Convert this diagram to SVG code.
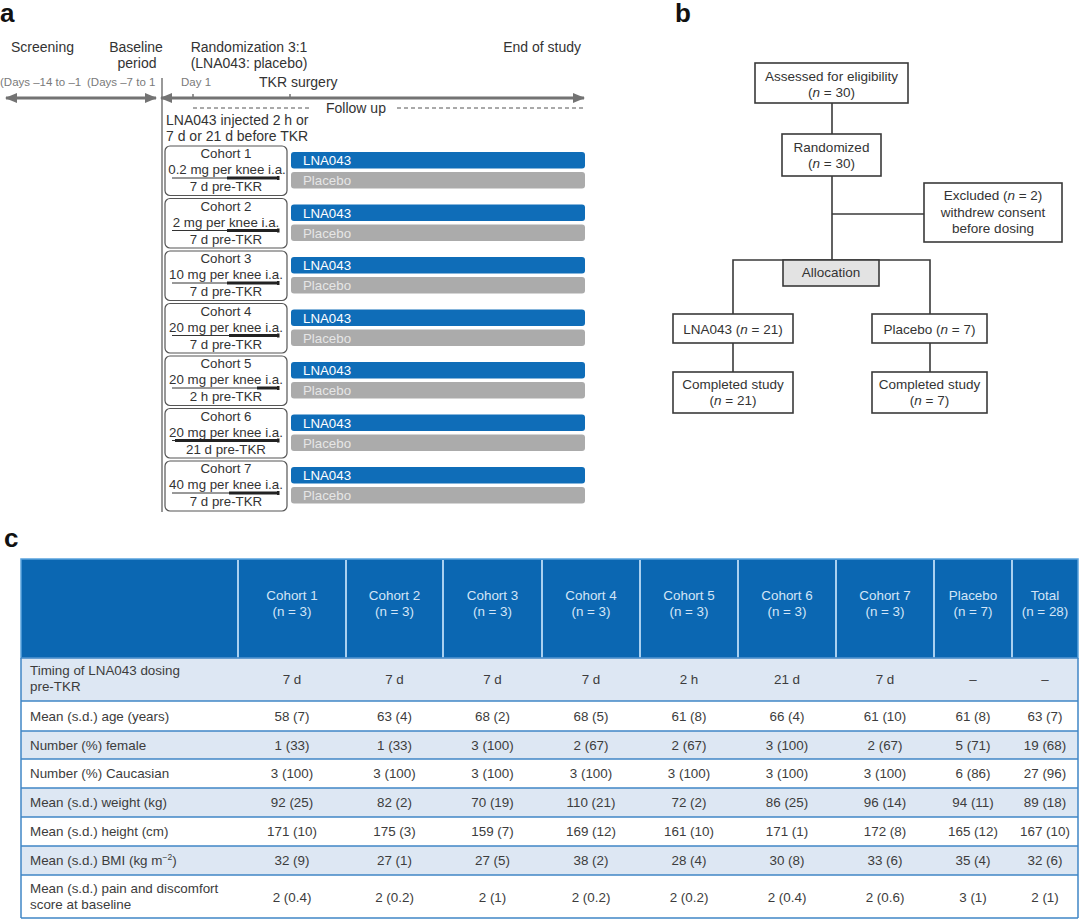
<svg xmlns="http://www.w3.org/2000/svg" width="1080" height="920" viewBox="0 0 1080 920">
<defs>
<style>
text{font-family:"Liberation Sans",Arial,sans-serif;fill:#333}
.lbl{font-size:26px;font-weight:bold;fill:#111}
.h{font-size:14px}
.sm{font-size:11.5px;fill:#7a7a7a}
.cb{font-size:13.3px;text-anchor:middle}
.bt{font-size:13.3px;fill:#fff}
.pt{font-size:13.3px;fill:#e6e6e6}
.box{fill:#fff;stroke:#555;stroke-width:1.2}
.fb{fill:#fff;stroke:#3a3a3a;stroke-width:1.6}
.ft{font-size:13.5px;text-anchor:middle}
.con{stroke:#3a3a3a;stroke-width:1.6;fill:none}
.ax{stroke:#737373;stroke-width:3;fill:none}
.dash{stroke:#555;stroke-width:1;stroke-dasharray:4 3;fill:none}
.th{font-size:13.4px;fill:#d3e5f7;text-anchor:middle}
.td{font-size:13.4px;fill:#3c3c3c;text-anchor:middle}
.tl{font-size:13.4px;fill:#3c3c3c}
.rowa{fill:#dde7f3}
.rowb{fill:#fff}
.rl{stroke:#3f86c6;stroke-width:1.5}
.bar1{fill:#0f6db8}
.bar2{fill:#ababab}
.tline{stroke:#333;stroke-width:1}
.tthick{stroke:#222;stroke-width:3}
</style>
<marker id="ah" markerUnits="userSpaceOnUse" markerWidth="12" markerHeight="10" refX="11" refY="5" orient="auto-start-reverse"><path d="M0,0 L12,5 L0,10 z" fill="#737373"/></marker>
</defs>
<rect width="1080" height="920" fill="#fff"/>

<!-- Panel labels -->
<text class="lbl" x="0" y="22">a</text>
<text class="lbl" x="675" y="22">b</text>
<text class="lbl" x="4" y="547">c</text>

<!-- Panel a timeline -->
<g id="timeline">
<text class="h" x="11" y="52">Screening</text>
<text class="h" x="136" y="52" text-anchor="middle">Baseline</text>
<text class="h" x="137" y="68" text-anchor="middle">period</text>
<text class="h" x="249" y="52" text-anchor="middle">Randomization 3:1</text>
<text class="h" x="249" y="68" text-anchor="middle">(LNA043: placebo)</text>
<text class="h" x="581" y="52" text-anchor="end">End of study</text>
<text class="sm" x="0" y="86">(Days –14 to –1</text>
<text class="sm" x="87" y="86">(Days –7 to 1</text>
<text class="sm" x="181" y="86">Day 1</text>
<text class="h" x="259" y="87">TKR surgery</text>
<line x1="162" y1="78" x2="162" y2="512" stroke="#555" stroke-width="1.2"/>
<line class="ax" x1="6" y1="98" x2="156" y2="98" marker-start="url(#ah)" marker-end="url(#ah)"/>
<line class="ax" x1="161" y1="98" x2="584" y2="98" marker-start="url(#ah)" marker-end="url(#ah)"/>
<line x1="193" y1="94" x2="193" y2="98" stroke="#737373" stroke-width="1.5"/>
<line x1="290" y1="94" x2="290" y2="98" stroke="#737373" stroke-width="1.5"/>
<line class="dash" x1="193" y1="108" x2="312" y2="108"/>
<text class="h" x="326" y="112.5">Follow up</text>
<line class="dash" x1="397" y1="108" x2="584" y2="108"/>
<text class="h" x="166" y="125">LNA043 injected 2 h or</text>
<text class="h" x="166" y="141">7 d or 21 d before TKR</text>
</g>

<g id="cohort1" transform="translate(0,146)">
<rect class="box" x="165" y="0" width="122" height="49.5" rx="5"/>
<text class="cb" x="226" y="12">Cohort 1</text>
<text class="cb" x="227" y="28">0.2 mg per knee i.a.</text>
<line class="tline" x1="172" y1="32" x2="279" y2="32"/><line class="tthick" x1="227" y1="32" x2="277" y2="32"/><rect x="277" y="30" width="2.5" height="4" fill="#222"/>
<text class="cb" x="226" y="45">7 d pre-TKR</text>
<rect class="bar1" x="291" y="6" width="294" height="16.5" rx="3"/><text class="bt" x="303" y="19">LNA043</text>
<rect class="bar2" x="291" y="26" width="294" height="16.5" rx="3"/><text class="pt" x="303" y="39">Placebo</text>
</g>
<g id="cohort2" transform="translate(0,198.5)">
<rect class="box" x="165" y="0" width="122" height="49.5" rx="5"/>
<text class="cb" x="226" y="12">Cohort 2</text>
<text class="cb" x="226" y="28">2 mg per knee i.a.</text>
<line class="tline" x1="172" y1="32" x2="279" y2="32"/><line class="tthick" x1="227" y1="32" x2="277" y2="32"/><rect x="277" y="30" width="2.5" height="4" fill="#222"/>
<text class="cb" x="226" y="45">7 d pre-TKR</text>
<rect class="bar1" x="291" y="6" width="294" height="16.5" rx="3"/><text class="bt" x="303" y="19">LNA043</text>
<rect class="bar2" x="291" y="26" width="294" height="16.5" rx="3"/><text class="pt" x="303" y="39">Placebo</text>
</g>
<g id="cohort3" transform="translate(0,251)">
<rect class="box" x="165" y="0" width="122" height="49.5" rx="5"/>
<text class="cb" x="226" y="12">Cohort 3</text>
<text class="cb" x="226" y="28">10 mg per knee i.a.</text>
<line class="tline" x1="172" y1="32" x2="279" y2="32"/><line class="tthick" x1="227" y1="32" x2="277" y2="32"/><rect x="277" y="30" width="2.5" height="4" fill="#222"/>
<text class="cb" x="226" y="45">7 d pre-TKR</text>
<rect class="bar1" x="291" y="6" width="294" height="16.5" rx="3"/><text class="bt" x="303" y="19">LNA043</text>
<rect class="bar2" x="291" y="26" width="294" height="16.5" rx="3"/><text class="pt" x="303" y="39">Placebo</text>
</g>
<g id="cohort4" transform="translate(0,303.5)">
<rect class="box" x="165" y="0" width="122" height="49.5" rx="5"/>
<text class="cb" x="226" y="12">Cohort 4</text>
<text class="cb" x="226" y="28">20 mg per knee i.a.</text>
<line class="tline" x1="172" y1="32" x2="279" y2="32"/><line class="tthick" x1="229" y1="32" x2="277" y2="32"/><rect x="277" y="30" width="2.5" height="4" fill="#222"/>
<text class="cb" x="226" y="45">7 d pre-TKR</text>
<rect class="bar1" x="291" y="6" width="294" height="16.5" rx="3"/><text class="bt" x="303" y="19">LNA043</text>
<rect class="bar2" x="291" y="26" width="294" height="16.5" rx="3"/><text class="pt" x="303" y="39">Placebo</text>
</g>
<g id="cohort5" transform="translate(0,356)">
<rect class="box" x="165" y="0" width="122" height="49.5" rx="5"/>
<text class="cb" x="226" y="12">Cohort 5</text>
<text class="cb" x="226" y="28">20 mg per knee i.a.</text>
<line class="tline" x1="172" y1="32" x2="279" y2="32"/><line class="tthick" x1="257" y1="32" x2="277" y2="32"/><rect x="277" y="30" width="2.5" height="4" fill="#222"/>
<text class="cb" x="226" y="45">2 h pre-TKR</text>
<rect class="bar1" x="291" y="6" width="294" height="16.5" rx="3"/><text class="bt" x="303" y="19">LNA043</text>
<rect class="bar2" x="291" y="26" width="294" height="16.5" rx="3"/><text class="pt" x="303" y="39">Placebo</text>
</g>
<g id="cohort6" transform="translate(0,408.5)">
<rect class="box" x="165" y="0" width="122" height="49.5" rx="5"/>
<text class="cb" x="226" y="12">Cohort 6</text>
<text class="cb" x="226" y="28">20 mg per knee i.a.</text>
<line class="tline" x1="172" y1="32" x2="279" y2="32"/><line class="tthick" x1="175" y1="32" x2="277" y2="32"/><rect x="277" y="30" width="2.5" height="4" fill="#222"/>
<text class="cb" x="226" y="45">21 d pre-TKR</text>
<rect class="bar1" x="291" y="6" width="294" height="16.5" rx="3"/><text class="bt" x="303" y="19">LNA043</text>
<rect class="bar2" x="291" y="26" width="294" height="16.5" rx="3"/><text class="pt" x="303" y="39">Placebo</text>
</g>
<g id="cohort7" transform="translate(0,461)">
<rect class="box" x="165" y="0" width="122" height="50" rx="5"/>
<text class="cb" x="226" y="12">Cohort 7</text>
<text class="cb" x="226" y="28">40 mg per knee i.a.</text>
<line class="tline" x1="172" y1="32" x2="279" y2="32"/><line class="tthick" x1="229" y1="32" x2="277" y2="32"/><rect x="277" y="30" width="2.5" height="4" fill="#222"/>
<text class="cb" x="226" y="45">7 d pre-TKR</text>
<rect class="bar1" x="291" y="6" width="294" height="16.5" rx="3"/><text class="bt" x="303" y="19">LNA043</text>
<rect class="bar2" x="291" y="26" width="294" height="16.5" rx="3"/><text class="pt" x="303" y="39">Placebo</text>
</g>

<!-- Panel b connectors -->
<g id="connectors">
<line class="con" x1="832" y1="103" x2="832" y2="134"/>
<line class="con" x1="832" y1="176" x2="832" y2="260"/>
<line class="con" x1="832" y1="214" x2="924" y2="214"/>
<polyline class="con" points="733,314 733,260 930,260 930,314"/>
<line class="con" x1="733" y1="343" x2="733" y2="372"/>
<line class="con" x1="930" y1="343" x2="930" y2="372"/>
</g>
<g id="assessed">
<rect class="fb" x="755" y="63" width="153" height="40"/>
<text class="ft" x="831.5" y="80.5">Assessed for eligibility</text>
<text class="ft" x="831.5" y="97">(<tspan font-style="italic">n</tspan> = 30)</text>
</g>
<g id="randomized">
<rect class="fb" x="782" y="134" width="99" height="42"/>
<text class="ft" x="831.5" y="151.5">Randomized</text>
<text class="ft" x="831.5" y="168">(<tspan font-style="italic">n</tspan> = 30)</text>
</g>
<g id="excluded">
<rect class="fb" x="924" y="183" width="138" height="59"/>
<text class="ft" x="993" y="200">Excluded (<tspan font-style="italic">n</tspan> = 2)</text>
<text class="ft" x="993" y="216.5">withdrew consent</text>
<text class="ft" x="993" y="233">before dosing</text>
</g>
<g id="allocation">
<rect x="783" y="260" width="96" height="26" fill="#e3e3e3" stroke="#3a3a3a" stroke-width="1.6"/>
<text class="ft" x="831" y="276.5">Allocation</text>
</g>
<g id="lna043">
<rect class="fb" x="673" y="314" width="120" height="29"/>
<text class="ft" x="733" y="333.5">LNA043 (<tspan font-style="italic">n</tspan> = 21)</text>
</g>
<g id="placebo">
<rect class="fb" x="872" y="314" width="115" height="29"/>
<text class="ft" x="929.5" y="333.5">Placebo (<tspan font-style="italic">n</tspan> = 7)</text>
</g>
<g id="completed1">
<rect class="fb" x="673" y="372" width="120" height="41"/>
<text class="ft" x="733" y="388.5">Completed study</text>
<text class="ft" x="733" y="404.5">(<tspan font-style="italic">n</tspan> = 21)</text>
</g>
<g id="completed2">
<rect class="fb" x="872" y="372" width="115" height="41"/>
<text class="ft" x="929.5" y="388.5">Completed study</text>
<text class="ft" x="929.5" y="404.5">(<tspan font-style="italic">n</tspan> = 7)</text>
</g>

<!-- Panel c table -->
<g id="table">
<rect x="21" y="559" width="1057" height="99" fill="#0b67b2" stroke="#5aa2dd" stroke-width="1.5"/>
<g stroke="#a9d0f0" stroke-width="2">
<line x1="238" y1="560" x2="238" y2="658"/><line x1="346" y1="560" x2="346" y2="658"/><line x1="443" y1="560" x2="443" y2="658"/><line x1="542" y1="560" x2="542" y2="658"/><line x1="640" y1="560" x2="640" y2="658"/><line x1="738" y1="560" x2="738" y2="658"/><line x1="836" y1="560" x2="836" y2="658"/><line x1="934" y1="560" x2="934" y2="658"/><line x1="1012" y1="560" x2="1012" y2="658"/>
</g>
<text class="th" x="292" y="600">Cohort 1</text><text class="th" x="292" y="616">(n = 3)</text>
<text class="th" x="394.5" y="600">Cohort 2</text><text class="th" x="394.5" y="616">(n = 3)</text>
<text class="th" x="492.5" y="600">Cohort 3</text><text class="th" x="492.5" y="616">(n = 3)</text>
<text class="th" x="591" y="600">Cohort 4</text><text class="th" x="591" y="616">(n = 3)</text>
<text class="th" x="689" y="600">Cohort 5</text><text class="th" x="689" y="616">(n = 3)</text>
<text class="th" x="787" y="600">Cohort 6</text><text class="th" x="787" y="616">(n = 3)</text>
<text class="th" x="885" y="600">Cohort 7</text><text class="th" x="885" y="616">(n = 3)</text>
<text class="th" x="973" y="600">Placebo</text><text class="th" x="973" y="616">(n = 7)</text>
<text class="th" x="1045" y="600">Total</text><text class="th" x="1045" y="616">(n = 28)</text>

<rect class="rowa" x="21" y="658" width="1057" height="43"/>
<rect class="rowb" x="21" y="701" width="1057" height="30"/>
<rect class="rowa" x="21" y="731" width="1057" height="28"/>
<rect class="rowb" x="21" y="759" width="1057" height="29"/>
<rect class="rowa" x="21" y="788" width="1057" height="29"/>
<rect class="rowb" x="21" y="817" width="1057" height="29"/>
<rect class="rowa" x="21" y="846" width="1057" height="29"/>
<rect class="rowb" x="21" y="875" width="1057" height="43"/>
<g class="rl">
<line x1="21" y1="658" x2="1078" y2="658"/><line x1="21" y1="701" x2="1078" y2="701"/><line x1="21" y1="731" x2="1078" y2="731"/><line x1="21" y1="759" x2="1078" y2="759"/><line x1="21" y1="788" x2="1078" y2="788"/><line x1="21" y1="817" x2="1078" y2="817"/><line x1="21" y1="846" x2="1078" y2="846"/><line x1="21" y1="875" x2="1078" y2="875"/><line x1="21" y1="918" x2="1078" y2="918"/>
<line x1="21" y1="658" x2="21" y2="918"/><line x1="1078" y1="658" x2="1078" y2="918"/>
</g>

<text class="tl" x="30" y="675">Timing of LNA043 dosing</text><text class="tl" x="30" y="691">pre-TKR</text>
<text class="td" x="292" y="684">7 d</text><text class="td" x="394.5" y="684">7 d</text><text class="td" x="492.5" y="684">7 d</text><text class="td" x="591" y="684">7 d</text><text class="td" x="689" y="684">2 h</text><text class="td" x="787" y="684">21 d</text><text class="td" x="885" y="684">7 d</text><text class="td" x="973" y="684">–</text><text class="td" x="1045" y="684">–</text>

<text class="tl" x="30" y="720.5">Mean (s.d.) age (years)</text>
<text class="td" x="292" y="720.5">58 (7)</text><text class="td" x="394.5" y="720.5">63 (4)</text><text class="td" x="492.5" y="720.5">68 (2)</text><text class="td" x="591" y="720.5">68 (5)</text><text class="td" x="689" y="720.5">61 (8)</text><text class="td" x="787" y="720.5">66 (4)</text><text class="td" x="885" y="720.5">61 (10)</text><text class="td" x="973" y="720.5">61 (8)</text><text class="td" x="1045" y="720.5">63 (7)</text>

<text class="tl" x="30" y="749.5">Number (%) female</text>
<text class="td" x="292" y="749.5">1 (33)</text><text class="td" x="394.5" y="749.5">1 (33)</text><text class="td" x="492.5" y="749.5">3 (100)</text><text class="td" x="591" y="749.5">2 (67)</text><text class="td" x="689" y="749.5">2 (67)</text><text class="td" x="787" y="749.5">3 (100)</text><text class="td" x="885" y="749.5">2 (67)</text><text class="td" x="973" y="749.5">5 (71)</text><text class="td" x="1045" y="749.5">19 (68)</text>

<text class="tl" x="30" y="778">Number (%) Caucasian</text>
<text class="td" x="292" y="778">3 (100)</text><text class="td" x="394.5" y="778">3 (100)</text><text class="td" x="492.5" y="778">3 (100)</text><text class="td" x="591" y="778">3 (100)</text><text class="td" x="689" y="778">3 (100)</text><text class="td" x="787" y="778">3 (100)</text><text class="td" x="885" y="778">3 (100)</text><text class="td" x="973" y="778">6 (86)</text><text class="td" x="1045" y="778">27 (96)</text>

<text class="tl" x="30" y="807">Mean (s.d.) weight (kg)</text>
<text class="td" x="292" y="807">92 (25)</text><text class="td" x="394.5" y="807">82 (2)</text><text class="td" x="492.5" y="807">70 (19)</text><text class="td" x="591" y="807">110 (21)</text><text class="td" x="689" y="807">72 (2)</text><text class="td" x="787" y="807">86 (25)</text><text class="td" x="885" y="807">96 (14)</text><text class="td" x="973" y="807">94 (11)</text><text class="td" x="1045" y="807">89 (18)</text>

<text class="tl" x="30" y="836">Mean (s.d.) height (cm)</text>
<text class="td" x="292" y="836">171 (10)</text><text class="td" x="394.5" y="836">175 (3)</text><text class="td" x="492.5" y="836">159 (7)</text><text class="td" x="591" y="836">169 (12)</text><text class="td" x="689" y="836">161 (10)</text><text class="td" x="787" y="836">171 (1)</text><text class="td" x="885" y="836">172 (8)</text><text class="td" x="973" y="836">165 (12)</text><text class="td" x="1045" y="836">167 (10)</text>

<text class="tl" x="30" y="865">Mean (s.d.) BMI (kg m<tspan dy="-5" font-size="8.5">−2</tspan><tspan dy="5">)</tspan></text>
<text class="td" x="292" y="865">32 (9)</text><text class="td" x="394.5" y="865">27 (1)</text><text class="td" x="492.5" y="865">27 (5)</text><text class="td" x="591" y="865">38 (2)</text><text class="td" x="689" y="865">28 (4)</text><text class="td" x="787" y="865">30 (8)</text><text class="td" x="885" y="865">33 (6)</text><text class="td" x="973" y="865">35 (4)</text><text class="td" x="1045" y="865">32 (6)</text>

<text class="tl" x="30" y="893">Mean (s.d.) pain and discomfort</text><text class="tl" x="30" y="909">score at baseline</text>
<text class="td" x="292" y="901.5">2 (0.4)</text><text class="td" x="394.5" y="901.5">2 (0.2)</text><text class="td" x="492.5" y="901.5">2 (1)</text><text class="td" x="591" y="901.5">2 (0.2)</text><text class="td" x="689" y="901.5">2 (0.2)</text><text class="td" x="787" y="901.5">2 (0.4)</text><text class="td" x="885" y="901.5">2 (0.6)</text><text class="td" x="973" y="901.5">3 (1)</text><text class="td" x="1045" y="901.5">2 (1)</text>
</g>
</svg>
